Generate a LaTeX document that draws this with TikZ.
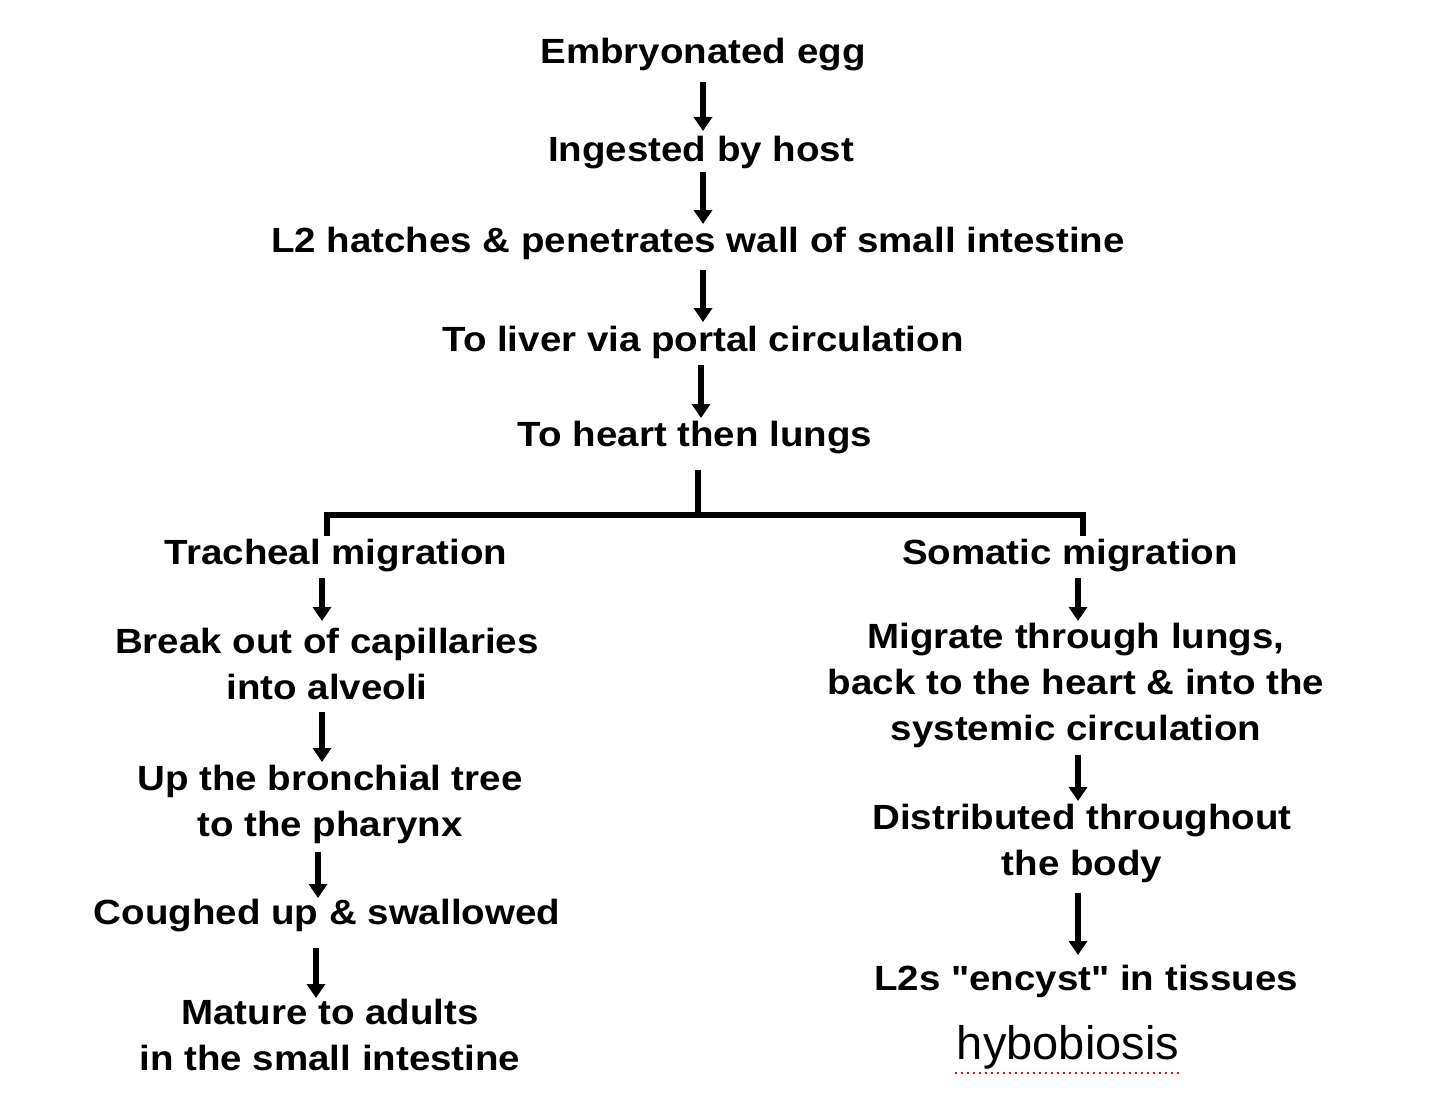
\documentclass[tikz,border=0pt]{standalone}
\usepackage{fontspec}
\setmainfont{Liberation Sans}
\newfontfamily\widefont[FakeStretch=1.1]{Liberation Sans}
\usetikzlibrary{arrows.meta}
\begin{document}
\begin{tikzpicture}[x=0.5pt,y=-0.5pt,
  lab/.style={font=\widefont\fontsize{17.5}{23}\selectfont\bfseries,align=center,inner sep=1pt},
  arr/.style={line width=3pt,-{Triangle[width=9pt,length=7pt]}},
  br/.style={line width=3pt}]
\useasboundingbox (0,0) rectangle (1440,1097);
\fill[white] (0,0) rectangle (1440,1097);
\node[lab] (egg) at (703,55) {Embryonated egg};
\node[lab] (ing) at (701,153) {Ingested by host};
\node[lab] (l2) at (698,243) {L2 hatches \& penetrates wall of small intestine};
\node[lab] (liv) at (703,342) {To liver via portal circulation};
\node[lab] (hrt) at (695,438) {To heart then lungs};
\node[lab] (tra) at (336,556) {Tracheal migration};
\node[lab] (som) at (1070,556) {Somatic migration};
\node[lab] (brk) at (327,664) {Break out of capillaries\\into alveoli};
\node[lab] (up) at (330,804) {Up the bronchial tree\\to the pharynx};
\node[lab] (cou) at (327,916) {Coughed up \& swallowed};
\node[lab] (mat) at (330,1035) {Mature to adults\\in the small intestine};
\node[lab] (mig) at (1076,685) {Migrate through lungs,\\back to the heart \& into the\\systemic circulation};
\node[lab] (dis) at (1082,843) {Distributed throughout\\the body};
\node[lab] (enc) at (1086,981) {L2s \char34encyst\char34\ in tissues};
\node[font=\fontsize{23.5}{26}\selectfont,inner sep=1pt] (hyb) at (1068,1047) {hybobiosis};
\draw[red,dotted,line width=1pt] ([yshift=-1pt]hyb.south west) -- ([yshift=-1pt]hyb.south east);
\coordinate (bt) at (698,470);
\coordinate (bm) at (698,515);
\coordinate (bl) at (327,515);
\coordinate (bl2) at (327,536);
\coordinate (bri) at (1083,515);
\coordinate (br2) at (1083,536);
\draw[arr] (703,82) -- (703,131);
\draw[arr] (703,172) -- (703,224);
\draw[arr] (703,270) -- (703,322);
\draw[arr] (701,365) -- (701,418);
\draw[br] (bt) -- (bm);
\draw[br] (bl2) -- (bl) -- (bri) -- (br2);
\draw[arr] (322,578) -- (322,621);
\draw[arr] (322,712) -- (322,762);
\draw[arr] (318,852) -- (318,898);
\draw[arr] (316,948) -- (316,998);
\draw[arr] (1078,578) -- (1078,621);
\draw[arr] (1078,755) -- (1078,801);
\draw[arr] (1078,893) -- (1078,955);
\end{tikzpicture}
\end{document}
